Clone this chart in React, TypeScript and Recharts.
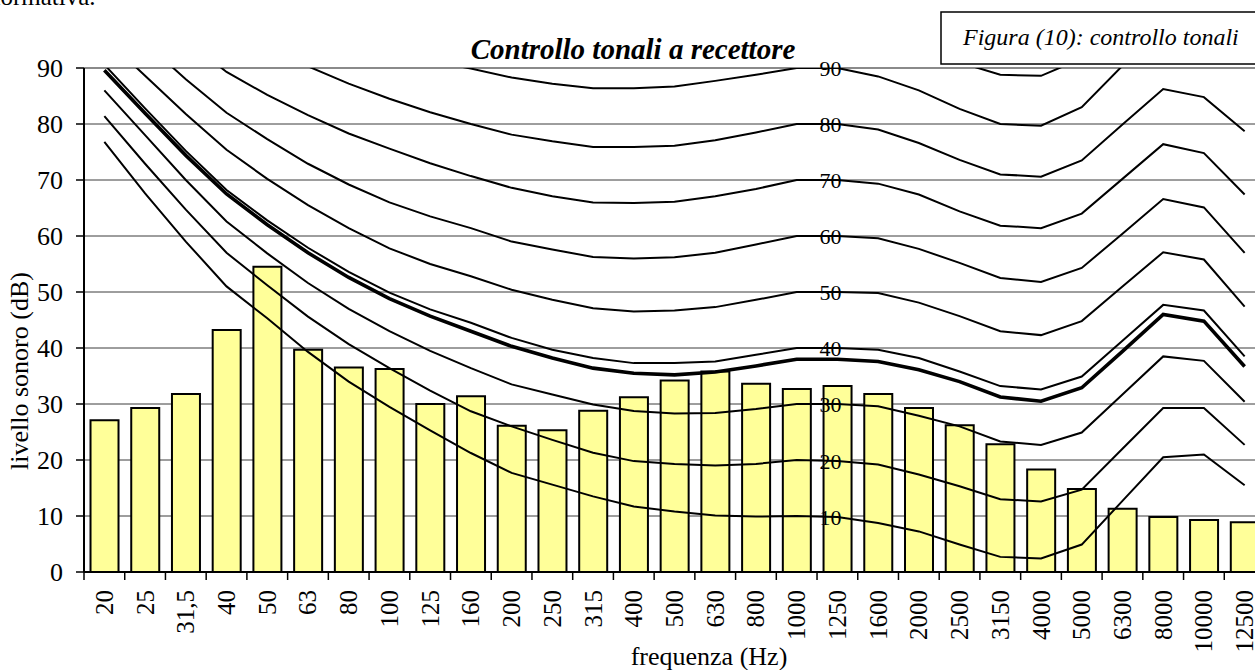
import React from 'react';
import { ComposedChart, Bar, Line, XAxis, YAxis, CartesianGrid } from 'recharts';

const FREQS = ['20', '25', '31,5', '40', '50', '63', '80', '100', '125', '160', '200', '250', '315', '400', '500', '630', '800', '1000', '1250', '1600', '2000', '2500', '3150', '4000', '5000', '6300', '8000', '10000', '12500'];

const LEVELS = [27.1, 29.3, 31.8, 43.2, 54.5, 39.7, 36.5, 36.25, 30.0, 31.4, 26.1, 25.3, 28.8, 31.2, 34.2, 35.8, 33.6, 32.7, 33.2, 31.8, 29.3, 26.2, 22.8, 18.3, 14.8, 11.3, 9.8, 9.3, 8.9];

const PHON_10 = [76.8, 67.6, 59.0, 51.0, 45.3, 39.3, 34.0, 29.5, 25.3, 21.25, 17.7, 15.6, 13.5, 11.7, 10.8, 10.1, 9.9, 10.0, 9.8, 8.75, 7.25, 4.9, 2.7, 2.4, 4.9, 12.7, 20.5, 21.0, 15.5];
const PHON_20 = [81.4, 72.9, 64.7, 57.0, 51.2, 45.6, 40.7, 36.4, 32.4, 28.7, 26.0, 23.6, 21.3, 19.8, 19.3, 19.0, 19.3, 20.0, 19.8, 19.2, 17.4, 15.3, 13.0, 12.6, 14.7, 22.0, 29.3, 29.3, 22.7];
const PHON_30 = [86.0, 78.0, 70.0, 62.6, 56.9, 51.6, 47.0, 43.0, 39.5, 36.4, 33.5, 31.7, 29.9, 28.75, 28.3, 28.4, 29.1, 30.0, 30.0, 29.6, 27.9, 26.0, 23.3, 22.7, 24.9, 31.7, 38.5, 37.7, 30.4];
const PHON_38 = [89.6, 81.9, 74.4, 67.5, 62.0, 57.0, 52.6, 48.8, 45.7, 43.0, 40.3, 38.2, 36.4, 35.5, 35.2, 35.7, 36.8, 38.0, 38.0, 37.6, 36.1, 34.0, 31.25, 30.5, 32.9, 39.4, 46.0, 44.8, 36.7];
const PHON_40 = [90.6, 82.8, 75.2, 68.2, 62.8, 57.9, 53.6, 49.9, 46.9, 44.5, 41.8, 39.7, 38.2, 37.3, 37.3, 37.6, 38.8, 40.0, 40.0, 39.7, 38.2, 35.8, 33.2, 32.6, 34.9, 41.3, 47.7, 46.7, 38.5];
const PHON_50 = [95.5, 88.6, 81.8, 75.4, 70.2, 65.5, 61.4, 57.8, 55.0, 52.8, 50.4, 48.6, 47.1, 46.5, 46.7, 47.3, 48.6, 50.0, 50.0, 49.8, 48.1, 45.7, 43.0, 42.3, 44.8, 51.0, 57.1, 55.8, 47.4];
const PHON_60 = [101, 94.5, 88.0, 82.0, 77.3, 72.9, 69.2, 66.0, 63.5, 61.4, 59.0, 57.6, 56.25, 56.0, 56.2, 57.0, 58.5, 60.0, 60.0, 59.6, 57.7, 55.2, 52.5, 51.8, 54.3, 60.4, 66.6, 65.1, 57.0];
const PHON_70 = [107, 101, 95, 89.3, 85.2, 81.6, 78.3, 75.6, 73.0, 70.7, 68.6, 67.1, 66.0, 65.9, 66.1, 67.1, 68.4, 70.0, 70.0, 69.35, 67.4, 64.4, 61.85, 61.4, 64.0, 70.2, 76.4, 74.8, 67.4];
const PHON_80 = [113, 107, 101, 96.5, 93.2, 90.3, 87.2, 84.5, 82.1, 80.0, 78.1, 76.9, 75.9, 75.9, 76.1, 77.1, 78.5, 80.0, 80.0, 79.0, 76.6, 73.6, 71.0, 70.6, 73.5, 79.9, 86.25, 84.8, 78.7];
const PHON_90 = [119, 113, 108, 104, 100.5, 97.5, 95, 93, 91.3, 89.9, 88.3, 87.2, 86.4, 86.4, 86.7, 87.7, 88.8, 90, 90, 88.5, 86.0, 82.7, 80.0, 79.7, 83.0, 90.4, 96.5, 95.0, 90.3];
const PHON_100 = [125, 119, 114, 110, 107, 104, 102, 100.5, 99.5, 98.5, 97.5, 96.8, 96.3, 96.3, 96.6, 97.5, 98.7, 100, 100, 98.3, 95.0, 91.0, 88.8, 88.6, 91.7, 99, 106, 104.5, 100];

const Y_TICKS = [0, 10, 20, 30, 40, 50, 60, 70, 80, 90];
const LABEL_FREQ = '1250';

const TITLE = 'Controllo tonali a recettore';
const BOX_TEXT = 'Figura (10): controllo tonali';
const X_TITLE = 'frequenza (Hz)';
const Y_TITLE = 'livello sonoro (dB)';
const PAGE_TEXT = 'normativa.';

const FONT = "'Liberation Serif', 'Times New Roman', 'DejaVu Serif', serif";

const W = 1300;
const H = 670;
const MARGIN = { top: 68, right: 35, bottom: 0, left: 0 };
const YAXIS_W = 84;
const XAXIS_H = 98;
const HALF_BAND = (W - MARGIN.left - MARGIN.right - YAXIS_W) / FREQS.length / 2;

const CURVES = [
  { key: 'p10', values: PHON_10, label: '10', width: 2 },
  { key: 'p20', values: PHON_20, label: '20', width: 2 },
  { key: 'p30', values: PHON_30, label: '30', width: 2 },
  { key: 'p38', values: PHON_38, label: '', width: 3.6 },
  { key: 'p40', values: PHON_40, label: '40', width: 2 },
  { key: 'p50', values: PHON_50, label: '50', width: 2 },
  { key: 'p60', values: PHON_60, label: '60', width: 2 },
  { key: 'p70', values: PHON_70, label: '70', width: 2 },
  { key: 'p80', values: PHON_80, label: '80', width: 2 },
  { key: 'p90', values: PHON_90, label: '90', width: 2 },
  { key: 'p100', values: PHON_100, label: '', width: 2 },
];

const XTick = (props: any) => {
  const { x, y, payload, index } = props;
  const ty = y + 18;
  return (
    <g>
      <line x1={x - HALF_BAND} x2={x - HALF_BAND} y1={y} y2={y + 8} stroke="#000" strokeWidth={1.5} />
      {index === FREQS.length - 1 ? (
        <line x1={x + HALF_BAND} x2={x + HALF_BAND} y1={y} y2={y + 8} stroke="#000" strokeWidth={1.5} />
      ) : null}
      <text
        x={x}
        y={ty}
        transform={`rotate(-90 ${x} ${ty})`}
        textAnchor="end"
        dy="0.34em"
        fontSize={25}
        fontFamily={FONT}
        fill="#000"
      >
        {payload.value}
      </text>
    </g>
  );
};

const makeLabel = (text: string) => (props: any) => {
  const vb = props.viewBox || {};
  const x = props.x ?? vb.x;
  const y = props.y ?? vb.y;
  const idx = props.index;
  if (!text || FREQS[idx] !== LABEL_FREQ || x == null || y == null) return null;
  return (
    <text x={x - 7} y={y} dy="0.36em" textAnchor="middle" fontSize={22} fontFamily={FONT} fill="#000">
      {text}
    </text>
  );
};

const gridLine = (p: any) => {
  const top = Math.abs(p.y1 - MARGIN.top) < 1.5;
  return (
    <line
      key={p.key ?? `g-${p.y1}`}
      x1={p.x1}
      x2={p.x2}
      y1={p.y1}
      y2={p.y2}
      stroke={top ? '#8a8a8a' : '#3c3c3c'}
      strokeWidth={top ? 2 : 1}
    />
  );
};

export default function App() {
  const data = FREQS.map((f, i) => {
    const row: any = { f, level: LEVELS[i] };
    CURVES.forEach((c) => {
      row[c.key] = c.values[i];
    });
    return row;
  });

  return (
    <div
      style={{
        position: 'fixed',
        left: 0,
        top: 0,
        width: 1255,
        height: 670,
        overflow: 'hidden',
        background: '#fff',
      }}
    >
      <ComposedChart width={W} height={H} data={data} margin={MARGIN} barCategoryGap="16%">
        <CartesianGrid vertical={false} horizontal={gridLine} />
        <XAxis
          dataKey="f"
          interval={0}
          height={XAXIS_H}
          tickSize={0}
          tickMargin={0}
          tickLine={false}
          tick={(p: any) => <XTick {...p} />}
          axisLine={{ stroke: '#000', strokeWidth: 2 }}
        />
        <YAxis
          domain={[0, 90]}
          ticks={Y_TICKS}
          allowDataOverflow
          width={YAXIS_W}
          tickSize={8}
          tickMargin={13}
          interval={0}
          tick={{ fontSize: 26, fontFamily: FONT, fill: '#000' }}
          tickLine={{ stroke: '#000', strokeWidth: 1.5 }}
          axisLine={{ stroke: '#000', strokeWidth: 2 }}
        />
        <Bar dataKey="level" fill="#FFFF99" stroke="#000" strokeWidth={2} isAnimationActive={false} />
        {CURVES.map((c) => (
          <Line
            key={c.key}
            dataKey={c.key}
            type="linear"
            stroke="#000"
            strokeWidth={c.width}
            dot={false}
            activeDot={false}
            isAnimationActive={false}
            label={c.label ? makeLabel(c.label) : false}
          />
        ))}
      </ComposedChart>
      <svg
        width={1255}
        height={670}
        style={{ position: 'absolute', left: 0, top: 0, pointerEvents: 'none' }}
      >
        <text x={-12} y={5} fontSize={25} fontFamily={FONT} fill="#000">
          {PAGE_TEXT}
        </text>
        <text x={633} y={59} textAnchor="middle" fontSize={29} fontWeight="bold" fontStyle="italic" fontFamily={FONT} fill="#000">
          {TITLE}
        </text>
        <rect x={941} y={12} width={330} height={52} fill="#fff" stroke="#000" strokeWidth={1.5} />
        <text x={963} y={45} fontSize={24} fontStyle="italic" fontFamily={FONT} fill="#000">
          {BOX_TEXT}
        </text>
        <text x={709} y={665} textAnchor="middle" fontSize={26} fontFamily={FONT} fill="#000">
          {X_TITLE}
        </text>
        <text x={28} y={371} transform="rotate(-90 28 371)" textAnchor="middle" fontSize={26} fontFamily={FONT} fill="#000">
          {Y_TITLE}
        </text>
      </svg>
    </div>
  );
}
